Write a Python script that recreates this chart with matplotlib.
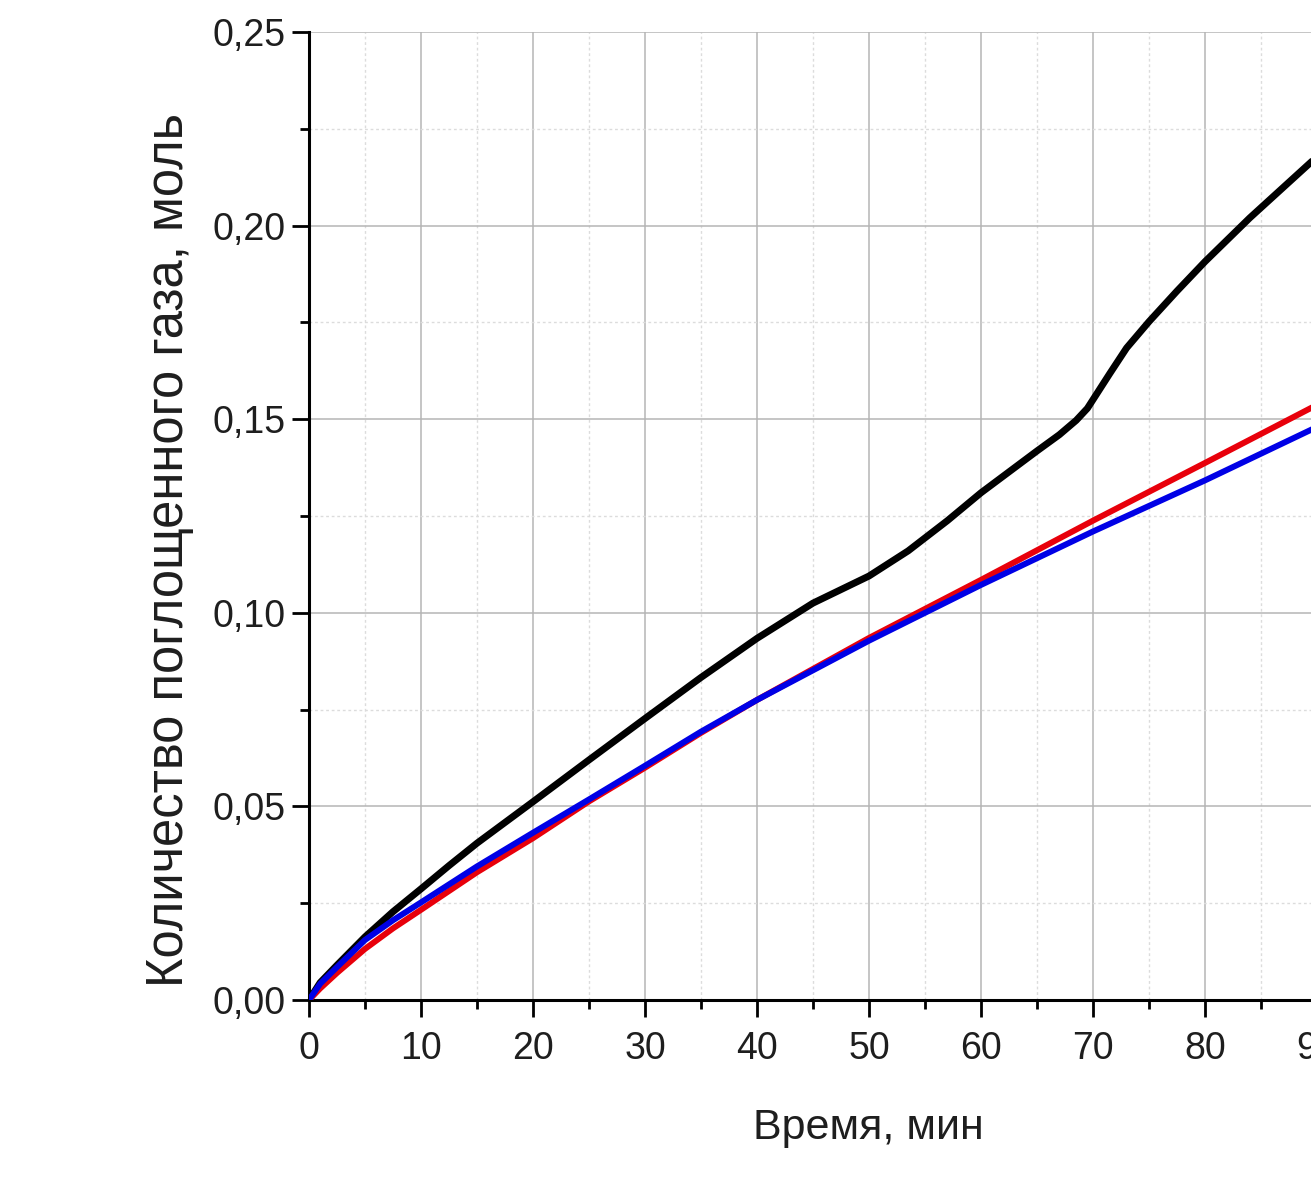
import matplotlib
matplotlib.use("Agg")
import matplotlib.pyplot as plt
from matplotlib.ticker import MultipleLocator, FuncFormatter

# Data
t_black = [0, 1, 2.5, 5, 7.5, 10, 12.5, 15, 20, 25, 30, 35, 40, 45, 50, 53.5, 57, 60, 65, 67, 68.5,
           69.5, 70.5, 71.5, 73, 75, 77.5, 80, 84, 90]
n_black = [0, 0.0045, 0.0090, 0.0163, 0.0228, 0.0287, 0.0347, 0.0405, 0.0512, 0.0620, 0.0727, 0.0833,
           0.0934, 0.1025, 0.1095, 0.1160, 0.1238, 0.1310, 0.1418, 0.1460, 0.1497, 0.1528, 0.1573,
           0.1618, 0.1684, 0.1752, 0.1831, 0.1907, 0.2020, 0.2178]

t_red = [0, 1, 2.5, 5, 7.5, 10, 15, 20, 25, 30, 35, 40, 50, 60, 70, 80, 90]
n_red = [0, 0.0030, 0.0070, 0.0132, 0.0185, 0.0233, 0.0330, 0.0418, 0.0513, 0.0600, 0.0690, 0.0775,
         0.0935, 0.1085, 0.1238, 0.1387, 0.1537]

t_blue = [0, 1, 2.5, 5, 7.5, 10, 15, 20, 25, 30, 35, 40, 50, 60, 70, 80, 90]
n_blue = [0, 0.0042, 0.0085, 0.0155, 0.0206, 0.0252, 0.0345, 0.0432, 0.0518, 0.0605, 0.0693, 0.0775,
          0.0928, 0.1072, 0.1210, 0.1342, 0.1480]

x_label = "Время, мин"
y_label = "Количество поглощенного газа, моль"

W, H = 1311, 1179
fig = plt.figure(figsize=(W / 100, H / 100), dpi=100)
fam = ["Liberation Sans", "DejaVu Sans"]

left, right_full, top, bottom = 309, 1429, 32, 1000
ax = fig.add_axes([left / W, (H - bottom) / H, (right_full - left) / W, (bottom - top) / H])

ax.plot(t_black, n_black, color="black", lw=5.0, solid_capstyle="round", solid_joinstyle="round", zorder=3)
ax.plot(t_red, n_red, color="#e8000b", lw=4.3, solid_capstyle="round", solid_joinstyle="round", zorder=4)
ax.plot(t_blue, n_blue, color="#0000e6", lw=4.3, solid_capstyle="round", solid_joinstyle="round", zorder=5)

ax.set_xlim(0, 100)
ax.set_ylim(0, 0.25)
ax.xaxis.set_major_locator(MultipleLocator(10))
ax.xaxis.set_minor_locator(MultipleLocator(5))
ax.yaxis.set_major_locator(MultipleLocator(0.05))
ax.yaxis.set_minor_locator(MultipleLocator(0.025))
ax.yaxis.set_major_formatter(FuncFormatter(lambda v, p: f"{v:.2f}".replace(".", ",")))
ax.xaxis.set_major_formatter(FuncFormatter(lambda v, p: f"{v:.0f}"))

ax.grid(which="major", color="#b5b5b5", lw=1.1, ls="-", zorder=0)
ax.grid(which="minor", color="#dcdcdc", lw=1.0, ls=(0, (2, 2)), zorder=0)
ax.set_axisbelow(True)

for s in ["top", "right"]:
    ax.spines[s].set_visible(False)
for s in ["left", "bottom"]:
    ax.spines[s].set_linewidth(2.2)
    ax.spines[s].set_color("black")

ax.tick_params(which="major", direction="out", length=12, width=2, color="black")
ax.tick_params(which="minor", direction="out", length=6.5, width=2, color="black")
ax.tick_params(axis="x", which="major", pad=10)
ax.tick_params(axis="y", which="major", pad=5)
for lab in ax.get_xticklabels() + ax.get_yticklabels():
    lab.set_fontfamily(fam)
    lab.set_fontsize(27)
    lab.set_color("#1e1e1e")

fig.text(868 / W, 1 - 1128 / H, x_label, ha="center", va="center", fontsize=31,
         family=fam, color="#1e1e1e")
fig.text(170 / W, 1 - 550 / H, y_label, ha="center", va="center", rotation=90, fontsize=36.5,
         family=fam, color="#1e1e1e")

fig.savefig("out.png", dpi=100)
